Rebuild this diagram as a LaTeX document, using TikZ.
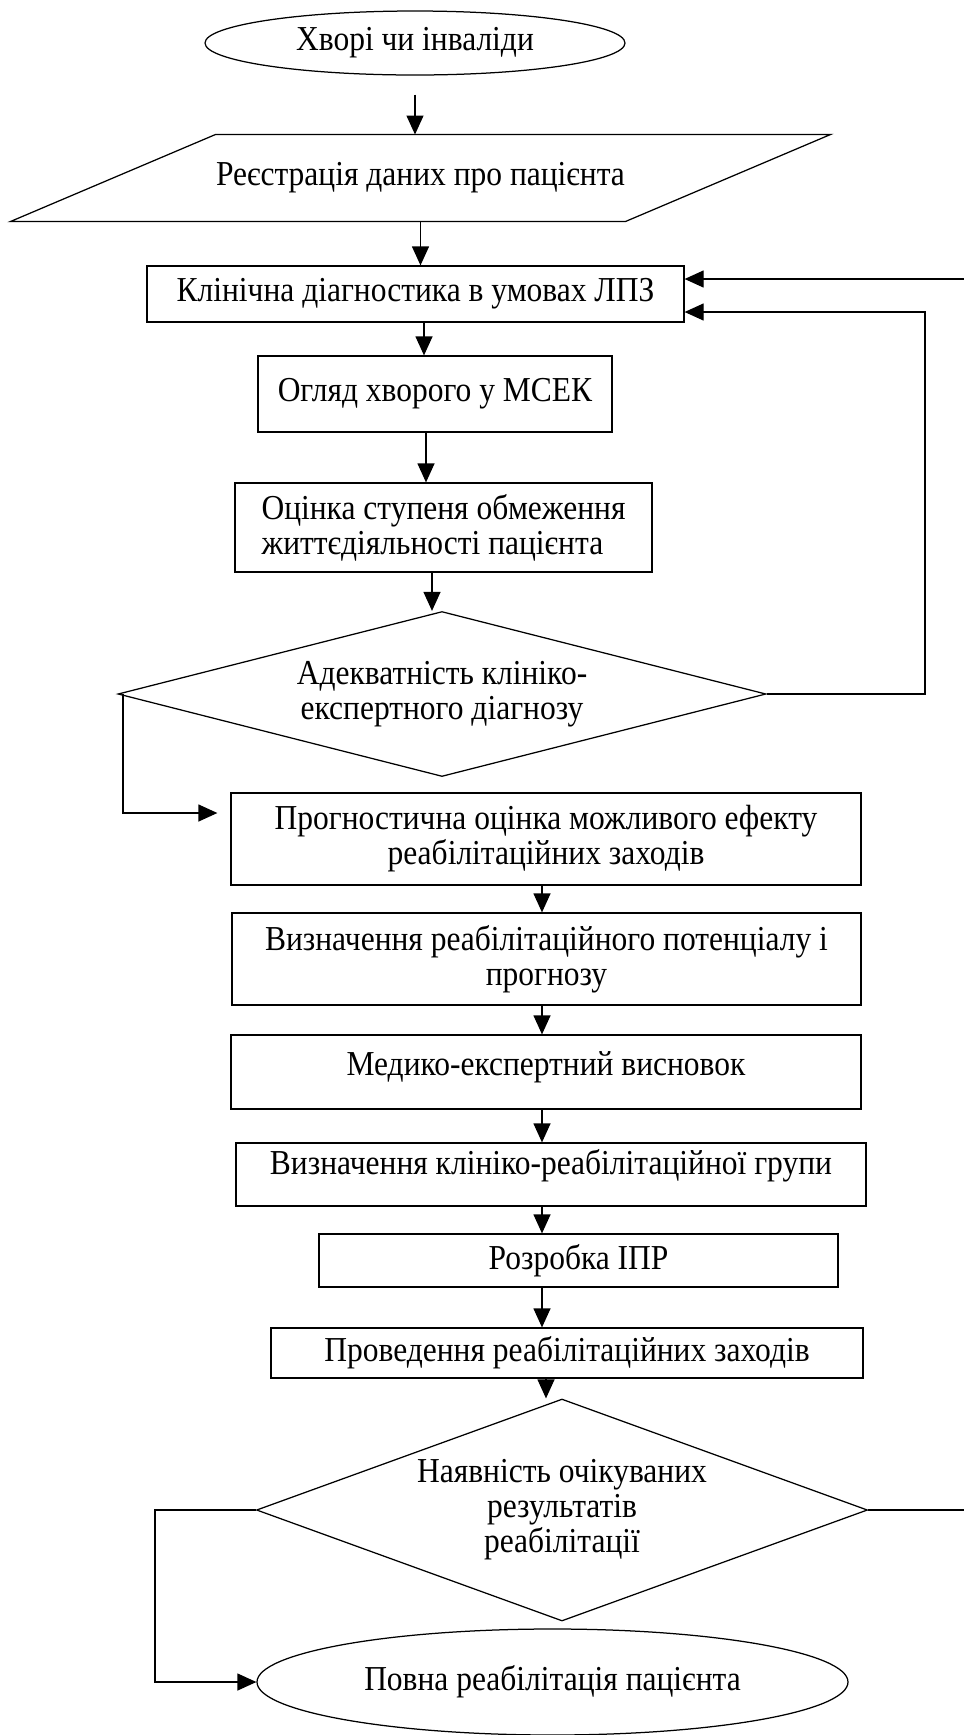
\documentclass[tikz,border=0pt]{standalone}
\usepackage{fontspec}
\setmainfont{Liberation Serif}[FakeStretch=0.9]
\usetikzlibrary{positioning, arrows.meta, shapes, calc}
\newcommand{\pxu}{0.4pt}

\begin{document}
\begin{tikzpicture}[x=0.4pt, y=-0.4pt,
    every node/.style={font=\fontsize{14}{14}\selectfont},
    linea/.style={line width=0.5pt},
    caja/.style={rectangle, draw, line width=0.5pt, align=center, inner sep=2pt},
    ovalo/.style={ellipse, draw, line width=0.5pt, align=center, inner sep=1pt},
    rombo/.style={diamond, draw, line width=0.5pt, align=center, inner sep=2pt},
    flecha/.style={-{Triangle[length=7.6pt, width=6.8pt]}, line width=0.5pt}]
    \clip (0,0) rectangle (964,1735);
    % Nodos
    \node[ovalo, minimum width=420*\pxu, minimum height=64*\pxu] (XI) at (415,43) {Хворі чи інваліди};
    \node[rectangle, align=center, minimum width=614*\pxu, minimum height=86*\pxu] (RD) at (420.5,178) {Реєстрація даних про пацієнта};
    \draw[linea] ([xshift=41pt]RD.north west) -- ([xshift=41pt]RD.north east) -- ([xshift=-41pt]RD.south east) -- ([xshift=-41pt]RD.south west) -- cycle;
    \node[caja, minimum width=537*\pxu, minimum height=56*\pxu] (KD) at (415.5,294) {Клінічна діагностика в умовах ЛПЗ};
    \node[caja, minimum width=354*\pxu, minimum height=76*\pxu] (OX) at (435,394) {Огляд хворого у МСЕК};
    \node[caja, align=left, minimum width=417*\pxu, minimum height=89*\pxu] (OC) at (443.5,527.5) {Оцінка ступеня обмеження\\життєдіяльності пацієнта};
    \node[rombo, aspect=3.9, minimum width=648*\pxu, minimum height=165*\pxu] (AD) at (442,694) {Адекватність клініко-\\експертного діагнозу};
    \node[caja, minimum width=630*\pxu, minimum height=92*\pxu] (PO) at (546,839) {Прогностична оцінка можливого ефекту\\реабілітаційних заходів};
    \node[caja, minimum width=629*\pxu, minimum height=92*\pxu] (VP) at (546.5,959) {Визначення реабілітаційного потенціалу і\\прогнозу};
    \node[caja, text depth=7pt, minimum width=630*\pxu, minimum height=74*\pxu] (MV) at (546,1072) {Медико-експертний висновок};
    \node[caja, text depth=10pt, minimum width=630*\pxu, minimum height=63*\pxu] (VG) at (551,1174.5) {Визначення клініко-реабілітаційної групи};
    \node[caja, minimum width=519*\pxu, minimum height=53*\pxu] (IPR) at (578.5,1260.5) {Розробка ІПР};
    \node[caja, minimum width=592*\pxu, minimum height=50*\pxu] (PR) at (567,1353) {Проведення реабілітаційних заходів};
    \node[rombo, aspect=2.75, minimum width=611*\pxu, minimum height=222*\pxu] (NR) at (562,1510) {Наявність очікуваних\\результатів\\реабілітації};
    \node[ovalo, minimum width=591*\pxu, minimum height=106*\pxu] (PV) at (552.5,1682) {Повна реабілітація пацієнта};

    % Columnas y esquinas
    \coordinate (c1) at (424,0);
    \coordinate (c2) at (426,0);
    \coordinate (c3) at (432,0);
    \coordinate (c4) at (542,0);
    \coordinate (c5) at (546,0);
    \coordinate (r1) at (925,312);
    \coordinate (r2) at (1000,279);
    \coordinate (l1) at (123,813);
    \coordinate (l2) at (155,1682);

    % Conexiones
    \draw[flecha, shorten <=7.6pt] (XI.south) -- (XI.south |- RD.north);
    \draw[flecha] (RD.south) -- (RD.south |- KD.north);
    \draw[flecha] (KD.south -| c1) -- (OX.north -| c1);
    \draw[flecha] (OX.south -| c2) -- (OC.north -| c2);
    \draw[flecha] (OC.south -| c3) -- (AD.north -| c3);
    \draw[flecha] (AD.east) -| (r1) -- (r1 -| KD.east);
    \draw[flecha, shorten >=5.2pt] (AD.west -| l1) |- (l1 -| PO.west);
    \draw[flecha] (PO.south -| c4) -- (VP.north -| c4);
    \draw[flecha] (VP.south -| c4) -- (MV.north -| c4);
    \draw[flecha] (MV.south -| c4) -- (VG.north -| c4);
    \draw[flecha] (VG.south -| c4) -- (IPR.north -| c4);
    \draw[flecha] (IPR.south -| c4) -- (PR.north -| c4);
    \draw[flecha] (PR.south -| c5) -- (NR.north -| c5);
    \draw[flecha] (NR.east) -| (r2) -- (r2 -| KD.east);
    \draw[flecha] (NR.west) -| (l2) -- (PV.west);
\end{tikzpicture}
\end{document}
